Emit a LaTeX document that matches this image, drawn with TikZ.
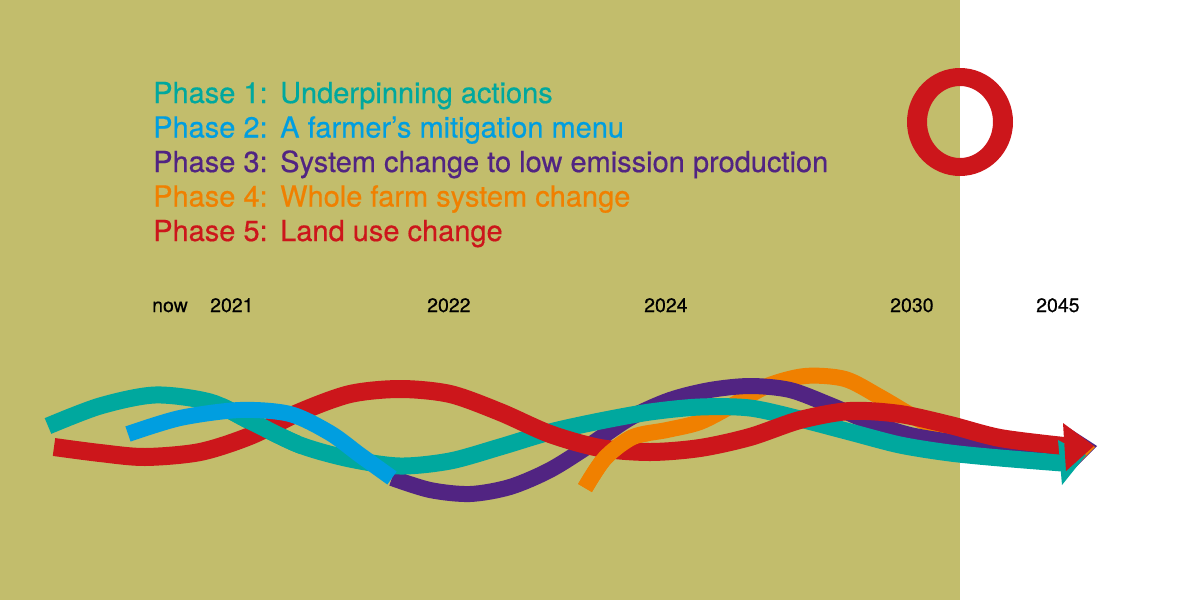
\documentclass[tikz,border=0pt]{standalone}
\usepackage{fontspec}
\setmainfont{TeX Gyre Heros}
\newfontfamily\heavyfont[FakeBold=0.5]{TeX Gyre Heros}
\definecolor{olive}{RGB}{194,189,108}
\definecolor{phaseone}{RGB}{0,168,158}
\definecolor{phasetwo}{RGB}{0,158,224}
\definecolor{phasethree}{RGB}{81,36,130}
\definecolor{phasefour}{RGB}{240,128,0}
\definecolor{phasefive}{RGB}{204,22,27}
% ribbons, written once so they can be redrawn inside a clip
\newcommand{\tealribbon}{\draw[ribbon, line width=17pt, draw=phaseone] plot[smooth] coordinates {(48,426) (100,406) (155,395) (210,402) (250,421) (300,445) (350,459) (400,466) (450,461) (500,447) (550,432) (600,421) (650,412) (700,407) (750,408) (800,419) (850,432) (900,445) (950,453) (1000,458) (1062,463)};}
\newcommand{\redribbon}{\draw[ribbon, line width=18pt, draw=phasefive] plot[smooth] coordinates {(54,447) (100,453) (145,457) (200,452) (250,436) (300,412) (350,394) (400,389) (450,394) (500,412) (550,434) (600,448) (650,452) (700,448) (750,437) (800,420) (850,411) (900,414) (950,425) (1000,438) (1064,446)};}
\newcommand{\orangeribbon}{\draw[ribbon, draw=phasefour] plot[smooth] coordinates {(585,488) (605,458) (633,437) (667,430) (700,422) (733,405) (767,386) (805,376) (845,379) (880,397) (920,420) (960,436) (1010,446) (1064,450)};}
\begin{document}
\begin{tikzpicture}[x=1pt, y=-1pt,
    ribbon/.style={line width=16pt},
    phase/.style={anchor=base west, inner sep=0pt, font=\heavyfont\fontsize{29pt}{34pt}\selectfont},
    year/.style={anchor=base west, inner sep=0pt, font=\heavyfont\fontsize{19.5pt}{22pt}\selectfont}]
  \useasboundingbox (0,0) rectangle (1200,600);
  \fill[olive] (0,0) rectangle (960,600);
  \fill[phasefive, even odd rule] (960,122) ellipse[x radius=53pt, y radius=54pt] (960,122) ellipse[x radius=33pt, y radius=36pt];
  % legend
  \node[phase, text=phaseone] (p1) at (153,103) {Phase 1:};
  \node[phase, text=phaseone] (p1text) at (280,103) {Underpinning actions};
  \node[phase, text=phasetwo] (p2) at (153,137.5) {Phase 2:};
  \node[phase, text=phasetwo] (p2text) at (280,137.5) {A farmer’s mitigation menu};
  \node[phase, text=phasethree] (p3) at (153,172) {Phase 3:};
  \node[phase, text=phasethree] (p3text) at (280,172) {System change to low emission production};
  \node[phase, text=phasefour] (p4) at (153,206.5) {Phase 4:};
  \node[phase, text=phasefour] (p4text) at (280,206.5) {Whole farm system change};
  \node[phase, text=phasefive] (p5) at (153,241) {Phase 5:};
  \node[phase, text=phasefive] (p5text) at (280,241) {Land use change};
  % time line
  \node[year] (now) at (152,312) {now};
  \node[year] (y2021) at (210,312) {2021};
  \node[year] (y2022) at (427,312) {2022};
  \node[year] (y2024) at (644,312) {2024};
  \node[year] (y2030) at (890,312) {2030};
  \node[year] (y2045) at (1036,312) {2045};
  % ribbons
  \orangeribbon
  \draw[ribbon, draw=phasethree] plot[smooth] coordinates {(392,478) (430,490) (470,494) (510,487) (550,470) (590,445) (630,418) (670,400) (710,390) (750,386) (790,390) (830,405) (870,422) (910,435) (960,443) (1010,447) (1064,449)};
  \tealribbon
  \redribbon
  \begin{scope}
    \clip (225,395) rectangle (300,462);
    \tealribbon
  \end{scope}
  \begin{scope}
    \clip (570,430) rectangle (650,500);
    \orangeribbon
  \end{scope}
  \draw[ribbon, draw=phasetwo] plot[smooth] coordinates {(128,434) (180,418) (240,410) (290,414) (330,433) (360,455) (392,478)};
  % arrow heads
  \fill[phasethree] (1066,426) -- (1097,446) -- (1068,475) -- cycle;
  \fill[phasefour] (1065,426) -- (1095,447) -- (1068,474) -- cycle;
  \fill[phaseone] (1058,440) -- (1086,455) -- (1062,485) -- cycle;
  \fill[phasefive] (1063,423) -- (1094,446) -- (1066,471) -- cycle;
\end{tikzpicture}
\end{document}
